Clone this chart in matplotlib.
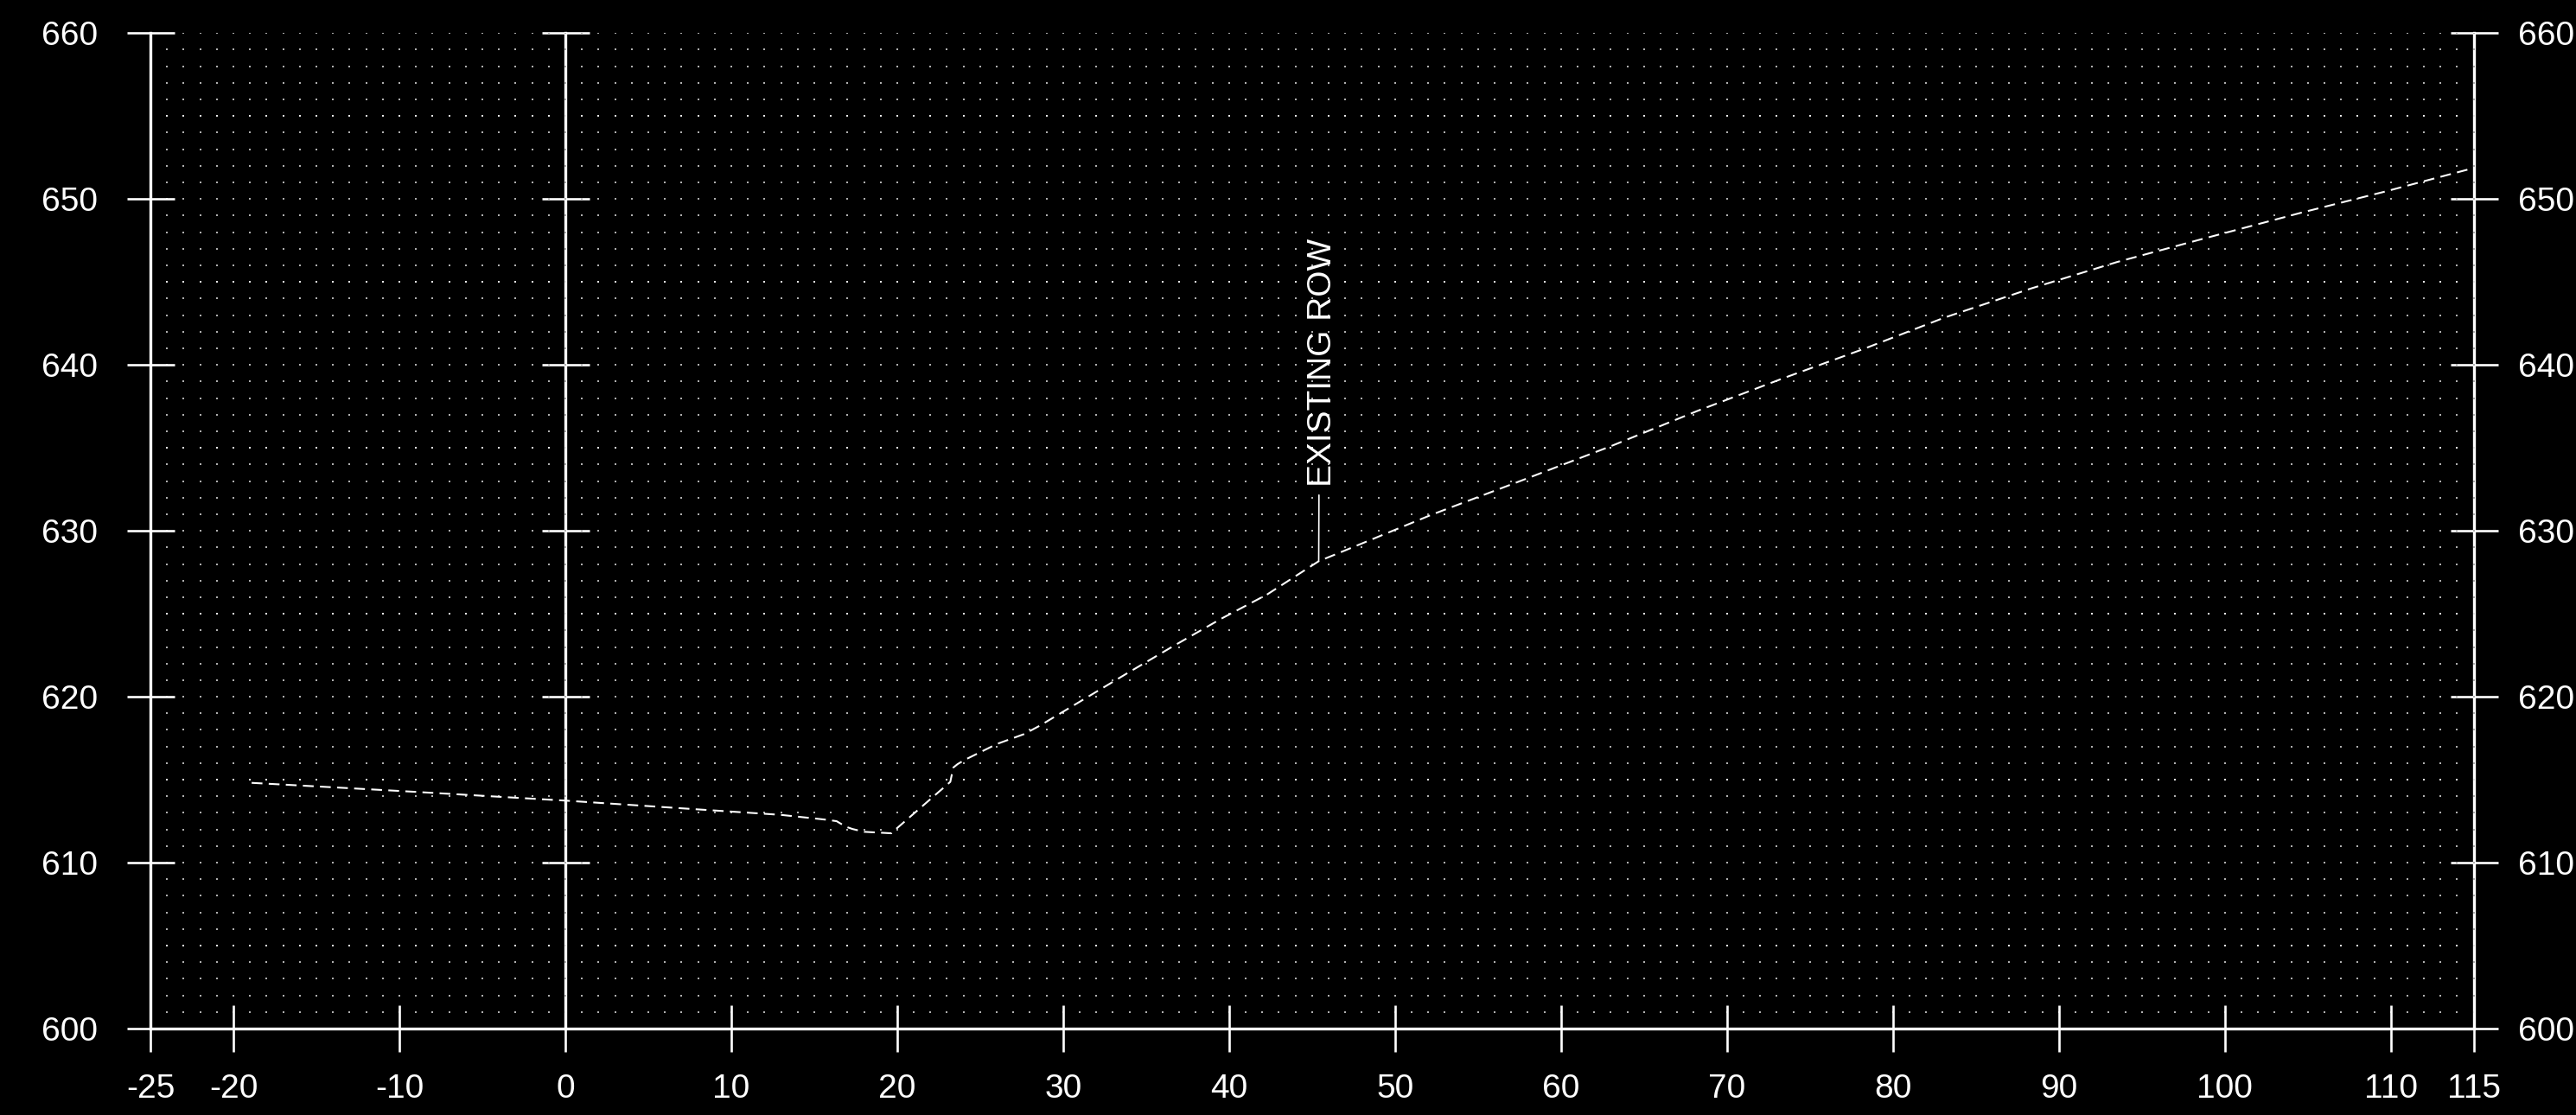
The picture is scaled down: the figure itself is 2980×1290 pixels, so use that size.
import numpy as np
import matplotlib
matplotlib.use("Agg")
import matplotlib.pyplot as plt

plt.rcParams['font.family'] = ['Liberation Sans', 'DejaVu Sans']
plt.rcParams['axes.unicode_minus'] = False

# ---- data ----
station = [-18.9, -9.77, 0.0, 13.0, 15.8, 16.35, 16.9, 17.3, 18.0, 19.65, 19.9,
           23.2, 23.38, 23.64, 24.08, 26.0, 27.65, 28.6, 31.0, 33.8, 36.6, 39.5,
           42.3, 45.4, 46.7, 52.2, 57.8, 63.0, 68.2, 73.4, 78.2, 83.1, 88.3,
           93.5, 98.75, 104.7, 109.7, 112.1, 115.0]
elevation = [614.81, 614.31, 613.74, 612.88, 612.58, 612.5, 612.17, 612.03, 611.86,
             611.77, 612.0, 614.87, 615.73, 615.94, 616.2, 617.15, 617.75, 618.26,
             619.7, 621.38, 623.03, 624.69, 626.17, 628.17, 628.7, 630.97, 633.1,
             635.1, 637.22, 639.2, 640.95, 642.85, 644.6, 646.2, 647.62, 649.2,
             650.46, 651.1, 651.87]

x_ticks = [-25, -20, -10, 0, 10, 20, 30, 40, 50, 60, 70, 80, 90, 100, 110, 115]
x_tick_labels = ["-25", "-20", "-10", "0", "10", "20", "30", "40", "50", "60",
                 "70", "80", "90", "100", "110", "115"]
y_ticks = [600, 610, 620, 630, 640, 650, 660]
y_tick_labels = ["600", "610", "620", "630", "640", "650", "660"]

label_text = "EXISTING ROW"
label_station = 45.4
label_elevation = 628.17

x_min, x_max = -25, 115
y_min, y_max = 600, 660

# ---- figure ----
fig = plt.figure(figsize=(29.8, 12.9), dpi=100, facecolor='black')
ax = fig.add_axes([0.05839, 0.07752, 0.90191, 0.89279])
ax.set_facecolor('black')
ax.set_xlim(x_min, x_max)
ax.set_ylim(y_min, y_max)

# dotted grid at every unit
gx, gy = np.meshgrid(np.arange(x_min, x_max + 1), np.arange(y_min, y_max + 1))
gx = gx.ravel(); gy = gy.ravel()
bright = (gy % 10) == 5
ax.scatter(gx[~bright], gy[~bright], s=1.6, marker='s', color='#b0b0b0',
           linewidths=0, zorder=1)
ax.scatter(gx[bright], gy[bright], s=2.6, marker='s', color='#e8e8e8',
           linewidths=0, zorder=1)

# profile line
ax.plot(station, elevation, color='white', lw=1.5, dashes=(6, 3.5), zorder=3,
        solid_capstyle='butt', dash_capstyle='butt')

# annotation
ax.annotate(label_text, xy=(label_station, label_elevation),
            xytext=(10.3, 61.8), textcoords='offset points',
            rotation=90, rotation_mode='anchor', ha='left', va='baseline',
            fontsize=28, color='white', zorder=4,
            arrowprops=dict(arrowstyle='-', color='white', lw=1.2,
                            shrinkA=4.7, shrinkB=0, relpos=(0.39, 0)))

SPINE_W = 2.4
TICK_W = 1.9
TICK_L = 39.6

for s in ['top', 'right']:
    ax.spines[s].set_visible(False)
for s in ['left', 'bottom']:
    ax.spines[s].set_color('white')
    ax.spines[s].set_linewidth(SPINE_W)

ax.set_xticks(x_ticks)
ax.set_xticklabels(x_tick_labels)
ax.set_yticks(y_ticks)
ax.set_yticklabels(y_tick_labels)
ax.tick_params(axis='x', direction='inout', length=39, width=TICK_W,
               colors='white', labelsize=28, pad=17.9)
ax.tick_params(axis='y', direction='inout', length=TICK_L, width=TICK_W,
               colors='white', labelsize=28, pad=24.2, right=False)

# right axis
axr = ax.secondary_yaxis('right')
axr.set_yticks(y_ticks)
axr.set_yticklabels(y_tick_labels)
axr.spines['right'].set_color('white')
axr.spines['right'].set_linewidth(SPINE_W)
axr.tick_params(axis='y', direction='inout', length=TICK_L, width=TICK_W,
                colors='white', labelsize=28, pad=17.5)

# centerline axis at station 0
axc = ax.secondary_yaxis((0 - x_min) / (x_max - x_min))
axc.set_yticks(y_ticks[1:])
axc.spines['left'].set_color('white')
axc.spines['left'].set_linewidth(SPINE_W)
axc.tick_params(axis='y', direction='inout', length=TICK_L, width=TICK_W,
                colors='white', labelleft=False, labelright=False)

fig.savefig('out.png', dpi=100, facecolor='black')
